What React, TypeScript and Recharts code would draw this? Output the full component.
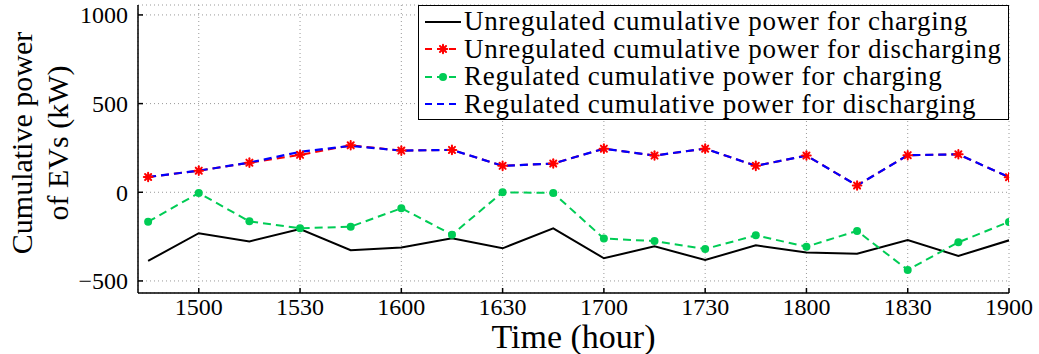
import React from 'react';
import { LineChart, Line, XAxis, YAxis, CartesianGrid } from 'recharts';

// time stamps (hhmm) and cumulative power values in kW
const times = [1445, 1500, 1515, 1530, 1545, 1600, 1615, 1630, 1645, 1700, 1715, 1730, 1745, 1800, 1815, 1830, 1845, 1900];
const unregCharging = [-387, -231, -277, -207, -327, -312, -260, -316, -203, -372, -305, -382, -299, -339, -346, -269, -359, -271];
const unregDischarging = [86, 122, 167, 211, 265, 235, 239, 149, 162, 246, 207, 246, 149, 207, 38, 209, 214, 85];
const regCharging = [-166, -4, -164, -203, -194, -90, -239, 0, -4, -261, -275, -320, -243, -307, -218, -438, -282, -167];
const regDischarging = [86, 122, 167, 228, 262, 235, 239, 149, 162, 246, 207, 246, 149, 207, 38, 209, 214, 85];

const xTicks = [1500, 1530, 1600, 1630, 1700, 1730, 1800, 1830, 1900];
const yTicks = [-500, 0, 500, 1000];

const legendLabels = [
  'Unregulated cumulative power for charging',
  'Unregulated cumulative power for discharging',
  'Regulated cumulative power for charging',
  'Regulated cumulative power for discharging',
];

// hhmm -> minutes after 14:00 so the x axis is linear
const toMin = (t: number) => (Math.floor(t / 100) - 14) * 60 + (t % 100);
const toHhmm = (m: number) => {
  const h = 14 + Math.floor(m / 60);
  const mm = m % 60;
  return `${h}${mm < 10 ? '0' : ''}${mm}`;
};

const data = times.map((t, i) => ({
  t: toMin(t),
  uc: unregCharging[i],
  ud: unregDischarging[i],
  rc: regCharging[i],
  rd: regDischarging[i],
}));

const FONT = '"Liberation Serif", "Times New Roman", serif';

const Star = (props: any) => {
  const { cx, cy } = props;
  if (cx == null || cy == null) return null;
  const r = 4.3;
  const d = r * 0.707;
  return (
    <g stroke="#ff0000" strokeWidth={2} strokeLinecap="round">
      <circle cx={cx} cy={cy} r={2.6} fill="#ff0000" stroke="none" />
      <line x1={cx - r} y1={cy} x2={cx + r} y2={cy} />
      <line x1={cx} y1={cy - r} x2={cx} y2={cy + r} />
      <line x1={cx - d} y1={cy - d} x2={cx + d} y2={cy + d} />
      <line x1={cx - d} y1={cy + d} x2={cx + d} y2={cy - d} />
    </g>
  );
};

const GreenDot = (props: any) => {
  const { cx, cy } = props;
  if (cx == null || cy == null) return null;
  return <circle cx={cx} cy={cy} r={4} fill="#00cc55" stroke="none" />;
};

const legendSample = (i: number) => {
  if (i === 0) return <line x1={2} y1={8} x2={38} y2={8} stroke="#000" strokeWidth={2} />;
  const color = i === 1 ? '#ff0000' : i === 2 ? '#00cc55' : '#0000ff';
  return (
    <g>
      <line x1={2} y1={8} x2={38} y2={8} stroke={color} strokeWidth={2} strokeDasharray="7 5" />
      {i === 1 && <Star cx={20} cy={8} />}
      {i === 2 && <GreenDot cx={20} cy={8} />}
    </g>
  );
};

const YLabel = () => (
  <g fontFamily={FONT} fontSize={30} fill="#000" textAnchor="middle">
    <text transform="translate(32,143) rotate(-90)">Cumulative power</text>
    <text transform="translate(68,143) rotate(-90)">of EVs (kW)</text>
  </g>
);

export default function App() {
  const tickStyle = { fontFamily: FONT, fontSize: 24, fill: '#000' };
  return (
    <div style={{ position: 'relative', width: 1039, height: 354, background: '#fff' }}>
      <style>{'body{margin:0}'}</style>
      <LineChart width={1039} height={354} data={data} margin={{ top: 5, right: 30, bottom: 0, left: 0 }}>
        <CartesianGrid stroke="#999" strokeDasharray="1 3" xAxisId="b" yAxisId="l" />
        <XAxis
          xAxisId="b"
          dataKey="t"
          type="number"
          domain={[42, 300]}
          allowDataOverflow
          ticks={xTicks.map(toMin)}
          tickFormatter={(v: number) => toHhmm(v)}
          height={61}
          tickSize={-5}
          tickMargin={10}
          tick={tickStyle}
          stroke="#000"
          strokeWidth={1.5}
          label={{ value: 'Time (hour)', position: 'insideBottom', offset: 6, style: { fontFamily: FONT, fontSize: 34, fill: '#000' } }}
        />
        <XAxis
          xAxisId="t"
          dataKey="t"
          type="number"
          orientation="top"
          domain={[42, 300]}
          allowDataOverflow
          ticks={xTicks.map(toMin)}
          tickFormatter={() => ''}
          height={0}
          tickSize={-5}
          stroke="#000"
          strokeWidth={1.5}
        />
        <YAxis
          yAxisId="l"
          type="number"
          domain={[-568, 1056]}
          allowDataOverflow
          ticks={yTicks}
          tickFormatter={(v: number) => (v < 0 ? `\u2212${Math.abs(v)}` : `${v}`)}
          width={138}
          tickSize={-5}
          tickMargin={15}
          tick={tickStyle}
          stroke="#000"
          strokeWidth={1.5}
          label={<YLabel />}
        />
        <YAxis
          yAxisId="r"
          orientation="right"
          type="number"
          domain={[-568, 1056]}
          allowDataOverflow
          ticks={yTicks}
          tickFormatter={() => ''}
          width={0}
          tickSize={-5}
          stroke="#000"
          strokeWidth={1.5}
        />
        <Line xAxisId="b" yAxisId="l" dataKey="uc" stroke="#000" strokeWidth={2} dot={false} isAnimationActive={false} />
        <Line xAxisId="b" yAxisId="l" dataKey="rc" stroke="#00cc55" strokeWidth={2} strokeDasharray="8 5" dot={<GreenDot />} isAnimationActive={false} />
        <Line xAxisId="b" yAxisId="l" dataKey="ud" stroke="#ff0000" strokeWidth={2} strokeDasharray="8 5" dot={<Star />} isAnimationActive={false} />
        <Line xAxisId="b" yAxisId="l" dataKey="rd" stroke="#0000ff" strokeWidth={2.2} strokeDasharray="8 5" dot={false} isAnimationActive={false} />
      </LineChart>
      <div
        style={{
          position: 'absolute',
          left: 418,
          top: 5,
          width: 591,
          height: 115,
          boxSizing: 'border-box',
          border: '1.5px solid #000',
          background: '#fff',
          padding: '2px 0 0 4px',
          fontFamily: FONT,
          fontSize: 27,
          letterSpacing: 0.75,
          lineHeight: '27.5px',
          color: '#000',
        }}
      >
        {legendLabels.map((lbl, i) => (
          <div key={lbl} style={{ display: 'flex', alignItems: 'center', whiteSpace: 'nowrap', height: 27.5 }}>
            <svg width={40} height={16} style={{ flex: 'none' }}>{legendSample(i)}</svg>
            <span style={{ marginLeft: 1 }}>{lbl}</span>
          </div>
        ))}
      </div>
    </div>
  );
}
